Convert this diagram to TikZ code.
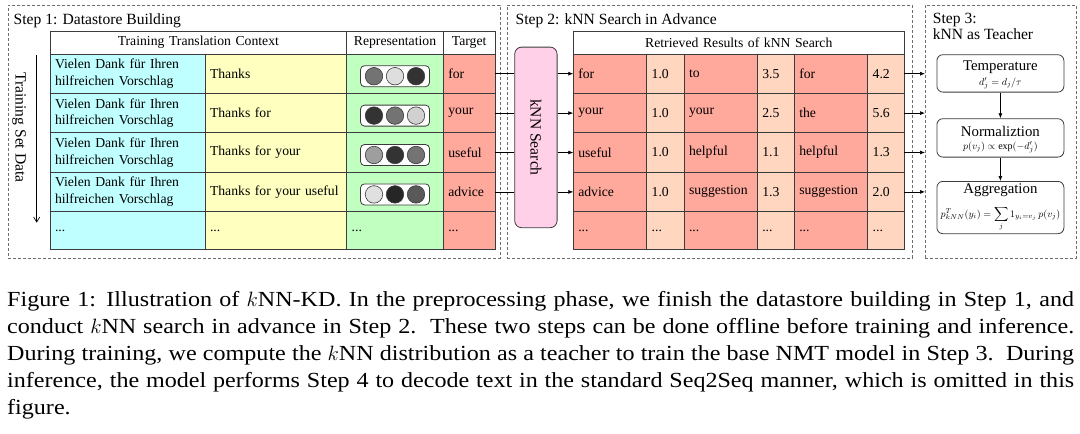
\documentclass[tikz,border=0pt]{standalone}
\usepackage{fontspec}
\setmainfont{Liberation Serif}
\newfontfamily\captionfont[FakeStretch=1.12]{Liberation Serif}
\usepackage{amsmath}
\usetikzlibrary{arrows.meta,calc}

\definecolor{cyancell}{RGB}{192,255,255}
\definecolor{yellowcell}{RGB}{255,255,192}
\definecolor{greencell}{RGB}{192,255,192}
\definecolor{redcell}{RGB}{255,168,156}
\definecolor{peachcell}{RGB}{255,214,192}
\definecolor{pinkbox}{RGB}{255,208,232}
\definecolor{gridline}{RGB}{60,60,60}
\definecolor{dashline}{RGB}{110,110,110}

\tikzset{
	cell/.style={draw=gridline, line width=0.7pt, anchor=north west, inner xsep=5pt, inner ysep=0pt, outer sep=0pt, minimum height=39.4pt, align=left, font=\fontsize{13.7}{16.5}\selectfont},
	headcell/.style={cell, fill=white, minimum height=23pt, align=center},
	stepbox/.style={draw=dashline, line width=0.8pt, dash pattern=on 3pt off 2pt, anchor=north west, inner sep=0pt, outer sep=0pt, minimum height=253pt},
	steptitle/.style={anchor=base west, inner sep=0pt, font=\fontsize{15.6}{16}\selectfont},
	pill/.style={draw=gridline, line width=0.8pt, fill=white, rounded corners=4pt, minimum width=69pt, minimum height=21pt, inner sep=0pt},
	dot/.style={circle, draw=gridline, line width=0.6pt, minimum size=17.5pt, inner sep=0pt},
	teachbox/.style={draw=gridline, line width=0.8pt, fill=white, rounded corners=6pt, minimum width=127pt, anchor=north, inner sep=0pt},
	teachlabel/.style={inner sep=0pt, font=\fontsize{14.8}{15}\selectfont},
	teachmath/.style={inner sep=0pt, font=\fontsize{10}{11}\selectfont},
	tip/.style={-{Latex[length=5pt,width=4pt]}, line width=0.7pt}
}

\newcommand{\etc}{...}

\begin{document}
\begin{tikzpicture}[x=1pt,y=-1pt]
	\useasboundingbox (0,0) rectangle (1080,434);
	
	%dashed boxes of the three steps
	\node[stepbox, minimum width=492pt] (step1) at (8,5) {};
	\node[stepbox, minimum width=405pt] (step2) at (507.3,5) {};
	\node[stepbox, minimum width=151pt] (step3) at (925,5) {};
	
	\node[steptitle] (title1) at (13.5,24.5) {Step 1: Datastore Building};
	\node[steptitle] (title2) at (515.5,24.5) {Step 2: kNN Search in Advance};
	\node[steptitle] (title3a) at (932.7,23.5) {Step 3:};
	\node[steptitle] (title3b) at (932.7,39.5) {kNN as Teacher};
	
	%training set data arrow
	\coordinate (setstart) at (36.7,55);
	\coordinate (setend) at (36.7,222.7);
	\draw[-{Straight Barb[length=5pt,width=6pt]}, line width=0.7pt] (setstart) -- (setend);
	\node[rotate=-90, inner sep=0pt, font=\fontsize{15.6}{16}\selectfont] (setdata) at (19,127.5) {Training Set Data};
	
	%header of table 1
	\node[headcell, text width=286.7pt] (headctx) at (50,31) {Training Translation Context};
	\node[headcell, text width=86.6pt] (headrep) at (346.7,31) {Representation};
	\node[headcell, text width=41.7pt] (headtgt) at (443.3,31) {Target};
	
	%rows of table 1
	\foreach \i/\ctx/\tgt/\ca/\cb/\cc in {1/Thanks/for/55/13/80, 2/Thanks for/your/80/55/18, 3/Thanks for your/useful/38/80/55, 4/Thanks for your useful/advice/12/85/65}{
		\pgfmathsetmacro{\rowtop}{54+39.4*(\i-1)}
		\node[cell, fill=cyancell, text width=145pt] (src\i) at (50,\rowtop) {Vielen Dank für Ihren\\hilfreichen Vorschlag};
		\node[cell, fill=yellowcell, text width=131.7pt] (ctx\i) at (205,\rowtop) {\ctx};
		\node[cell, fill=greencell, text width=86.6pt] (rep\i) at (346.7,\rowtop) {};
		\node[cell, fill=redcell, text width=41.7pt] (tgt\i) at (443.3,\rowtop) {\tgt};
		\node[pill] (pill\i) at ($(rep\i.center)+(0,2.5)$) {};
		\node[dot, fill=black!\ca] (dota\i) at ($(pill\i.center)+(-21,0)$) {};
		\node[dot, fill=black!\cb] (dotb\i) at (pill\i.center) {};
		\node[dot, fill=black!\cc] (dotc\i) at ($(pill\i.center)+(21,0)$) {};
	}
	\node[cell, fill=cyancell, text width=145pt, minimum height=38pt] (src5) at (50,211.6) {\etc};
	\node[cell, fill=yellowcell, text width=131.7pt, minimum height=38pt] (ctx5) at (205,211.6) {\etc};
	\node[cell, fill=greencell, text width=86.6pt, minimum height=38pt] (rep5) at (346.7,211.6) {\etc};
	\node[cell, fill=redcell, text width=41.7pt, minimum height=38pt] (tgt5) at (443.3,211.6) {\etc};
	
	%kNN search box
	\node[draw=gridline, line width=0.8pt, fill=pinkbox, rounded corners=7pt, anchor=north west, minimum width=42.4pt, minimum height=180.6pt, inner sep=0pt] (knn) at (514.3,46.7) {};
	\node[rotate=-90, inner sep=0pt, font=\fontsize{15.6}{16}\selectfont] (knnlabel) at (knn.center) {kNN Search};
	
	%header of table 2
	\node[headcell, text width=321pt] (headret) at (573.3,31) {Retrieved Results of kNN Search};
	
	%rows of table 2
	\foreach \i/\wa/\da/\wb/\db/\wc/\dc in {1/for/1.0/to/3.5/for/4.2, 2/your/1.0/your/2.5/the/5.6, 3/useful/1.0/helpful/1.1/helpful/1.3, 4/advice/1.0/suggestion/1.3/suggestion/2.0, 5/\etc/\etc/\etc/\etc/\etc/\etc}{
		\pgfmathsetmacro{\rowtop}{54+39.4*(\i-1)}
		\pgfmathsetmacro{\rowh}{\i==5 ? 38 : 39.4}
		\node[cell, fill=redcell, text width=63.4pt, minimum height=\rowh pt] (retwa\i) at (573.3,\rowtop) {\wa};
		\node[cell, fill=peachcell, text width=27.3pt, minimum height=\rowh pt] (retda\i) at (646.7,\rowtop) {\da};
		\node[cell, fill=redcell, text width=63.3pt, minimum height=\rowh pt] (retwb\i) at (684,\rowtop) {\wb};
		\node[cell, fill=peachcell, text width=27pt, minimum height=\rowh pt] (retdb\i) at (757.3,\rowtop) {\db};
		\node[cell, fill=redcell, text width=63.4pt, minimum height=\rowh pt] (retwc\i) at (794.3,\rowtop) {\wc};
		\node[cell, fill=peachcell, text width=26.6pt, minimum height=\rowh pt] (retdc\i) at (867.7,\rowtop) {\dc};
	}
	
	%connectors
	\foreach \i in {1,2,3,4}{
		\draw[line width=0.7pt] (tgt\i.east) -- (tgt\i.east -| knn.west);
		\draw[tip] (knn.east |- tgt\i.east) -- (retwa\i.west);
		\draw[tip] (retdc\i.east) -- (retdc\i.east -| step3.west);
	}
	
	%step 3 boxes
	\node[teachbox, minimum height=37.4pt] (temp) at (1000.4,54.3) {};
	\node[teachlabel] (templabel) at (1000.4,67) {Temperature};
	\node[teachmath] (tempmath) at (1000.4,83.5) {$d'_j = d_j/\tau$};
	\node[teachbox, minimum height=38.4pt] (norm) at (1000.4,118.3) {};
	\node[teachlabel] (normlabel) at (1000.4,131.5) {Normaliztion};
	\node[teachmath] (normmath) at (1000.4,147.5) {$p(v_j) \propto \exp(-d'_j)$};
	\node[teachbox, minimum height=52.3pt] (aggr) at (1000.4,181) {};
	\node[teachlabel] (aggrlabel) at (1000.4,190) {Aggregation};
	\node[teachmath, font=\fontsize{9.6}{10}\selectfont] (aggrmath) at (1000.4,219) {$\displaystyle p^T_{kNN}(y_i) = \sum_j 1_{y_i=v_j}\, p(v_j)$};
	\draw[tip] (temp) -- (norm);
	\draw[tip] (norm) -- (aggr);
	
	%caption
	\node[anchor=north west, inner sep=0pt, text width=1067pt, align=justify, font=\captionfont\fontsize{21.5}{27}\selectfont] (caption) at (7,291) {Figure 1: Illustration of $k$NN-KD. In the preprocessing phase, we finish the datastore building in Step 1, and\linebreak conduct $k$NN search in advance in Step 2.\ \ These two steps can be done offline before training and inference.\linebreak During training, we compute the $k$NN distribution as a teacher to train the base NMT model in Step 3.\ \ During\linebreak inference, the model performs Step 4 to decode text in the standard Seq2Seq manner, which is omitted in this\linebreak figure.};
	
\end{tikzpicture}
\end{document}
